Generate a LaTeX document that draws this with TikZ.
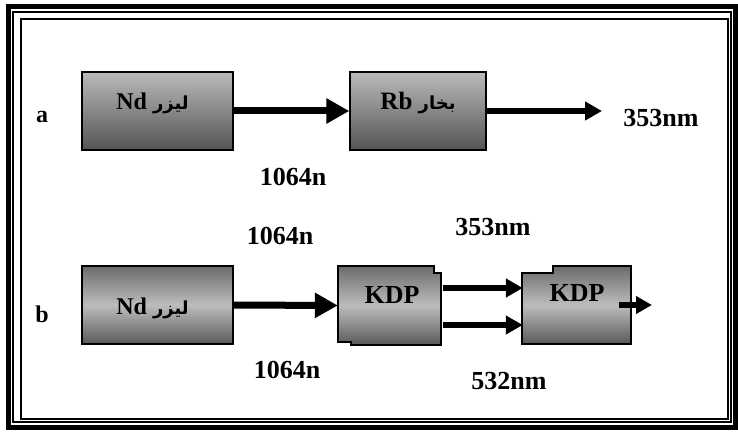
\documentclass[tikz,border=0pt]{standalone}
\usepackage{fontspec}
\setmainfont{Liberation Serif}
\newfontfamily\arabicfont[Script=Arabic]{DejaVu Sans}
\TeXXeTstate=1
\usetikzlibrary{arrows.meta}

\tikzset{
    lbl/.style={font=\bfseries\fontsize{26}{28}\selectfont, inner sep=0, anchor=base},
    tag/.style={font=\bfseries\fontsize{24}{26}\selectfont, inner sep=0, anchor=base},
    boxtxt/.style={font=\bfseries\fontsize{#1}{#1}\selectfont, inner sep=0, anchor=base},
    upbox/.style={draw=black, line width=1.3pt, inner sep=0,
        top color=black!27, bottom color=black!67},
    lowbox/.style={draw=black, line width=1.3pt, inner sep=0,
        top color=black!58, bottom color=black!65, middle color=black!26},
    kdpframe/.style={inner sep=0, minimum width=#1, minimum height=78pt},
    bigarrow/.style={line width=7pt, -{Triangle[length=23pt,width=24pt]}},
    midarrow/.style={line width=6pt, -{Triangle[length=17pt,width=18pt]}},
    smallarrow/.style={line width=5.5pt, -{Triangle[length=16pt,width=17pt]}}
}

\newcommand{\arab}[1]{{\arabicfont\fontsize{18}{18}\selectfont\beginR #1\endR}}

\begin{document}
\begin{tikzpicture}[x=1pt, y=-1pt]

\useasboundingbox (0,0) rectangle (738,433);
\fill[white] (0,0) rectangle (738,433);

% frame
\draw[line width=5pt] (8,7) rectangle (735,427);
\draw[line width=2pt] (13,12) rectangle (730.5,422);
\draw[line width=1.5pt] (21,19) rectangle (728,419);

% row a
\node[upbox, minimum width=151pt, minimum height=78pt] (ndA) at (157.5,111) {};
\node[upbox, minimum width=136pt, minimum height=78pt] (rb) at (418,111) {};
\coordinate (rbout) at (602,111);

% row b
\node[lowbox, minimum width=151pt, minimum height=78pt] (ndB) at (157.5,305) {};

\node[kdpframe=103pt] (kdpA) at (389.5,305.5) {};
\draw[lowbox] (338,266) -- (434,266) -- (434,273) -- (441,273) -- (441,345)
    -- (351,345) -- (351,342) -- (338,342) -- cycle;

\node[kdpframe=109pt] (kdpB) at (576.5,305) {};
\draw[lowbox] (553,266) -- (631,266) -- (631,344) -- (522,344) -- (522,273)
    -- (553,273) -- cycle;
\coordinate (kdpout) at (652,305);

% box texts
\node[boxtxt=24] (ndAtxt) at (152.5,110) {Nd \arab{ليزر}};
\node[boxtxt=25] (rbtxt) at (418,110) {Rb \arab{بخار}};
\node[boxtxt=24] (ndBtxt) at (152.5,314) {Nd \arab{ليزر}};
\node[boxtxt=26] (kdpAtxt) at (392,303) {KDP};
\node[boxtxt=26] (kdpBtxt) at (577,301) {KDP};

% arrows
\draw[bigarrow] (ndA.east) -- (rb.west);
\draw[midarrow] (rb.east) -- (rbout);
\draw[bigarrow] (ndB.east) -- (kdpA.west);
\draw[midarrow] ([xshift=2pt,yshift=17.5pt]kdpA.east) -- ([xshift=1pt,yshift=17pt]kdpB.west);
\draw[midarrow] ([xshift=2pt,yshift=-19.5pt]kdpA.east) -- ([xshift=1pt,yshift=-20pt]kdpB.west);
\draw[smallarrow] ([xshift=-12pt]kdpB.east) -- (kdpout);

% labels
\node[tag] (taga) at (42,122) {a};
\node[tag] (tagb) at (42,322) {b};

\foreach \n/\x/\y/\t in {wlA/293/185/1064n, wlB/661/127/353nm, wlC/280/244/1064n,
    wlD/493/235/353nm, wlE/287/378/1064n, wlF/509/389/532nm}
    \node[lbl] (\n) at (\x,\y) {\t};

\end{tikzpicture}
\end{document}
